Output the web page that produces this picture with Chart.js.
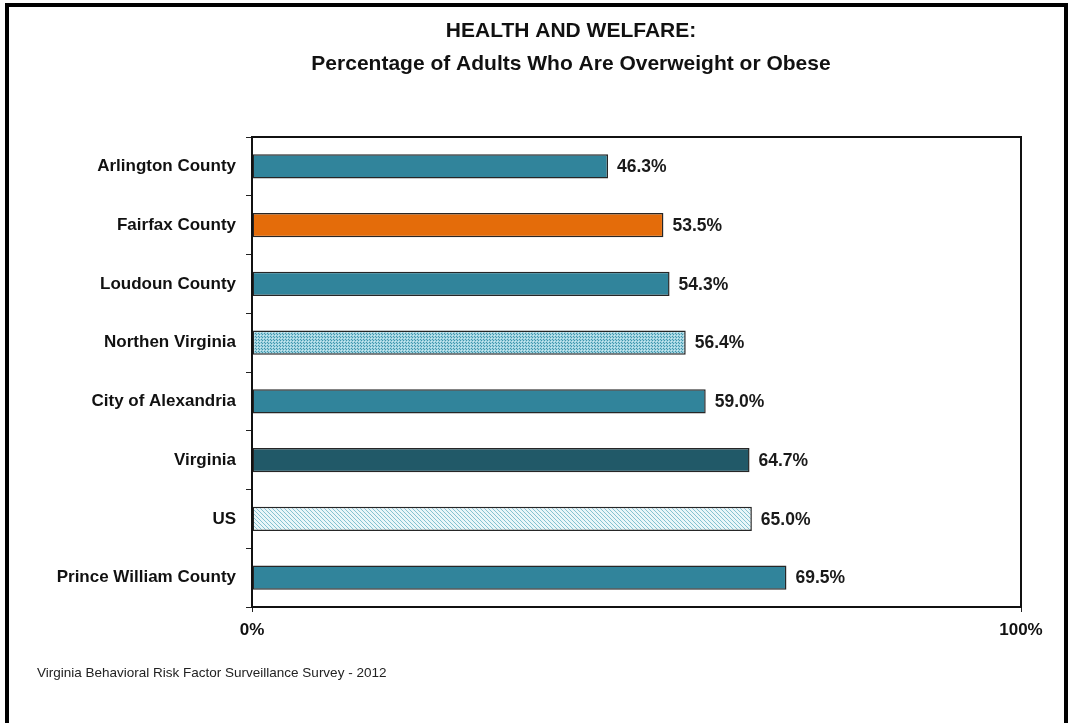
<!DOCTYPE html>
<html>
<head>
<meta charset="utf-8">
<script src="https://cdn.jsdelivr.net/npm/chart.js@4.4.1/dist/chart.umd.min.js"></script>
<style>
  html, body { margin: 0; padding: 0; background: #fff; }
  #wrap { position: relative; width: 1068px; height: 723px; overflow: hidden; }
  #frame { position: absolute; left: 5px; top: 3px; width: 1055px; height: 740px;
           border: 4px solid #000; pointer-events: none; }
</style>
</head>
<body>
<div id="wrap">
  <canvas id="chart1" width="1068" height="723"></canvas>
  <div id="frame"></div>
</div>
<script>
var categories = ['Arlington County', 'Fairfax County', 'Loudoun County', 'Northen Virginia',
  'City of Alexandria', 'Virginia', 'US', 'Prince William County'];
var values = [46.3, 53.5, 54.3, 56.4, 59.0, 64.7, 65.0, 69.5];
var xTicks = [0, 100];
var titleLines = ['HEALTH AND WELFARE:', 'Percentage of Adults Who Are Overweight or Obese'];
var sourceNote = 'Virginia Behavioral Risk Factor Surveillance Survey - 2012';

/* fill patterns */
function makePattern(size, draw) {
  var c = document.createElement('canvas');
  c.width = size; c.height = size;
  draw(c.getContext('2d'));
  return c.getContext('2d').createPattern(c, 'repeat');
}
var dots = makePattern(3, function (g) {
  g.fillStyle = '#9fd2df'; g.fillRect(0, 0, 3, 3);
  g.fillStyle = '#3f96ad'; g.fillRect(0, 0, 1, 1); g.fillRect(1, 1, 1, 1);
  g.fillStyle = '#cbe9f0'; g.fillRect(2, 2, 1, 1);
});
var hatch = makePattern(4, function (g) {
  g.fillStyle = '#eaf6f9'; g.fillRect(0, 0, 4, 4);
  g.fillStyle = '#86c2d1';
  for (var i = 0; i < 4; i++) g.fillRect(i, i, 1, 1);
});

var teal = '#31849b';
var colors = [teal, '#e46c0a', teal, dots, teal, '#215968', hatch, teal];

var fam = '"Liberation Sans", Arial, sans-serif';
var labelFont = { family: fam, size: 17, weight: 'bold' };

var decorations = {
  id: 'decorations',
  afterDatasetsDraw: function (chart) {
    var ctx = chart.ctx;
    var meta = chart.getDatasetMeta(0);
    ctx.save();
    ctx.font = 'bold 17.5px ' + fam;
    ctx.fillStyle = '#1a1a1a';
    ctx.textBaseline = 'middle';
    meta.data.forEach(function (bar, i) {
      ctx.fillText(values[i].toFixed(1) + '%', bar.x + 9, bar.y + 1);
    });
    // plot frame
    var a = chart.chartArea;
    ctx.strokeStyle = '#111';
    ctx.lineWidth = 2;
    ctx.strokeRect(a.left, a.top, a.right - a.left, a.bottom - a.top);
    // title
    ctx.font = 'bold 21px ' + fam;
    ctx.fillStyle = '#111';
    ctx.textAlign = 'center';
    ctx.fillText(titleLines[0], 571, 31);
    ctx.fillText(titleLines[1], 571, 64);
    // source note
    ctx.font = '13.5px ' + fam;
    ctx.fillStyle = '#222';
    ctx.textAlign = 'left';
    ctx.fillText(sourceNote, 37, 673);
    ctx.restore();
  }
};

var ctx = document.getElementById('chart1');
var chart1 = new Chart(ctx, {
  type: 'bar',
  data: {
    labels: categories,
    datasets: [{
      data: values,
      backgroundColor: colors,
      borderColor: '#262626',
      borderWidth: 1.5,
      borderSkipped: false,
      categoryPercentage: 1,
      barPercentage: 0.41
    }]
  },
  options: {
    indexAxis: 'y',
    responsive: false,
    animation: false,
    layout: { padding: { left: 0, right: 47, top: 137, bottom: 0 } },
    plugins: {
      legend: { display: false },
      tooltip: { enabled: false },
      title: { display: false }
    },
    scales: {
      y: {
        afterFit: function (s) { s.width = 252; },
        grid: { offset: true, drawOnChartArea: false, tickLength: 6, color: '#222', lineWidth: 1 },
        border: { display: true, color: '#111', width: 2 },
        ticks: { color: '#111', font: labelFont, padding: 10 }
      },
      x: {
        min: 0,
        max: 100,
        afterBuildTicks: function (s) { s.ticks = xTicks.map(function (v) { return { value: v }; }); },
        afterFit: function (s) { s.height = 116; },
        grid: { drawOnChartArea: false, tickLength: 5, color: '#222' },
        border: { display: true, color: '#111', width: 2 },
        ticks: {
          color: '#111', font: labelFont, padding: 8,
          callback: function (v) { return v + '%'; }
        }
      }
    }
  },
  plugins: [decorations]
});
</script>
</body>
</html>
